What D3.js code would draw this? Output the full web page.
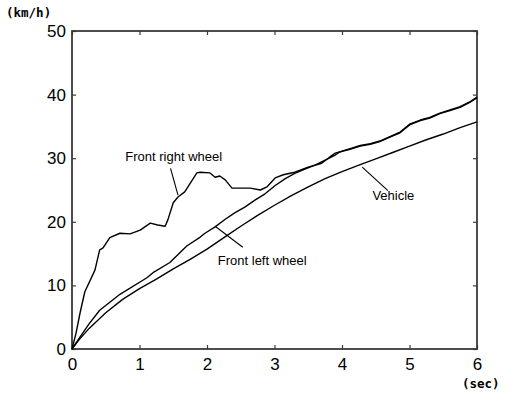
<!DOCTYPE html>
<html>
<head>
<meta charset="utf-8">
<script src="https://cdn.jsdelivr.net/npm/d3@7/dist/d3.min.js"></script>
<style>
  html, body { margin: 0; padding: 0; background: #fff; }
  svg { display: block; }
</style>
</head>
<body>
<svg id="chart" width="509" height="396"></svg>
<script>
// Wheel and vehicle speed during acceleration (km/h over seconds)
const xTicks = [0, 1, 2, 3, 4, 5, 6];
const yTicks = [0, 10, 20, 30, 40, 50];

const vehicleTime  = [0, 0.1, 0.25, 0.5, 0.75, 1.0, 1.25, 1.5, 1.75, 2.0, 2.25, 2.5, 2.75, 3.0, 3.25, 3.5, 3.75, 4.0, 4.25, 4.5, 4.75, 5.0, 5.25, 5.5, 5.75, 6.0];
const vehicleSpeed = [0, 1.4, 3.2, 5.7, 7.8, 9.5, 11.0, 12.6, 14.1, 15.7, 17.5, 19.3, 21.0, 22.6, 24.1, 25.5, 26.8, 27.9, 28.9, 29.9, 30.9, 31.9, 32.9, 33.8, 34.8, 35.7];

const leftTime  = [0, 0.1, 0.25, 0.41, 0.71, 1.11, 1.2, 1.45, 1.7, 1.9, 1.97, 2.12, 2.27, 2.41, 2.56, 2.71, 2.86, 3.01, 3.16, 3.3, 3.45, 3.6, 3.75, 3.9, 3.97, 4.12, 4.27, 4.42, 4.56, 4.71, 4.86, 5.01, 5.16, 5.3, 5.45, 5.6, 5.75, 5.9, 6.0];
const leftSpeed = [0, 1.6, 3.9, 6.1, 8.6, 11.2, 12.0, 13.6, 16.2, 17.6, 18.2, 19.2, 20.4, 21.4, 22.3, 23.4, 24.4, 25.7, 26.8, 27.6, 28.3, 28.9, 29.7, 30.5, 31.0, 31.4, 31.9, 32.2, 32.6, 33.3, 34.0, 35.3, 35.9, 36.3, 37.0, 37.5, 38.0, 38.8, 39.5];

const rightTime  = [0, 0.06, 0.12, 0.19, 0.34, 0.41, 0.46, 0.56, 0.71, 0.86, 1.01, 1.16, 1.27, 1.38, 1.42, 1.5, 1.57, 1.67, 1.85, 1.9, 2.04, 2.12, 2.19, 2.27, 2.37, 2.52, 2.64, 2.79, 2.89, 3.01, 3.13, 3.3, 3.5, 3.7, 3.82, 3.9, 4.0, 4.12, 4.27, 4.42, 4.56, 4.71, 4.86, 5.01, 5.16, 5.3, 5.45, 5.6, 5.75, 5.9, 6.0];
const rightSpeed = [0, 2.5, 5.7, 9.0, 12.4, 15.6, 15.9, 17.5, 18.2, 18.1, 18.7, 19.8, 19.5, 19.3, 20.3, 23.0, 23.9, 24.7, 27.7, 27.8, 27.7, 27.0, 27.2, 26.6, 25.3, 25.3, 25.3, 25.0, 25.5, 26.9, 27.4, 27.8, 28.6, 29.2, 30.2, 30.8, 31.1, 31.5, 32.0, 32.3, 32.7, 33.4, 34.1, 35.4, 36.0, 36.4, 37.1, 37.6, 38.1, 38.9, 39.6];

// Callout labels: text plus the short leader line pointing at its curve
const labelText = ["Front right wheel", "Front left wheel", "Vehicle"];

const svg = d3.select("#chart");
const plotLeft = 72, plotRight = 477, plotTop = 31, plotBottom = 349;

const x = d3.scaleLinear().domain([0, 6]).range([plotLeft, plotRight]);
const y = d3.scaleLinear().domain([0, 50]).range([plotBottom, plotTop]);

const frameColor = "#3a3a3a";
const tickFont = "'Liberation Sans', Arial, sans-serif";

// Bottom axis with inward ticks
const gx = svg.append("g").attr("transform", `translate(0,${plotBottom})`)
  .call(d3.axisBottom(x).tickValues(xTicks).tickFormat(d3.format("d"))
    .tickSizeInner(-4).tickSizeOuter(0).tickPadding(10));
// Left axis with inward ticks
const gy = svg.append("g").attr("transform", `translate(${plotLeft},0)`)
  .call(d3.axisLeft(y).tickValues(yTicks).tickFormat(d3.format("d"))
    .tickSizeInner(-4).tickSizeOuter(0).tickPadding(6));
// Top and right axes: ticks only
const gt = svg.append("g").attr("transform", `translate(0,${plotTop})`)
  .call(d3.axisTop(x).tickValues(xTicks).tickFormat("")
    .tickSizeInner(-4).tickSizeOuter(0));
const gr = svg.append("g").attr("transform", `translate(${plotRight},0)`)
  .call(d3.axisRight(y).tickValues(yTicks).tickFormat("")
    .tickSizeInner(-4).tickSizeOuter(0));

[gx, gy, gt, gr].forEach(g => {
  g.select(".domain").remove();
  g.selectAll(".tick line").attr("stroke", frameColor).attr("stroke-width", 1.2);
  g.selectAll(".tick text")
    .attr("font-family", tickFont)
    .attr("font-size", 17)
    .attr("fill", "#000");
});
gx.selectAll(".tick text").attr("dy", "0.62em");

// Plot frame
svg.append("rect")
  .attr("x", plotLeft).attr("y", plotTop)
  .attr("width", plotRight - plotLeft).attr("height", plotBottom - plotTop)
  .attr("fill", "none")
  .attr("stroke", frameColor)
  .attr("stroke-width", 1.8);

// Unit labels
svg.append("text")
  .attr("x", 6).attr("y", 17)
  .attr("font-family", "'DejaVu Sans Mono', monospace")
  .attr("font-weight", "bold")
  .attr("font-size", 12.5)
  .text("(km/h)");
svg.append("text")
  .attr("x", 462).attr("y", 388)
  .attr("font-family", "'DejaVu Sans Mono', monospace")
  .attr("font-weight", "bold")
  .attr("font-size", 12.5)
  .text("(sec)");

// Speed curves
const line = d3.line().x(d => x(d[0])).y(d => y(d[1]));
const series = [
  { t: vehicleTime, v: vehicleSpeed },
  { t: leftTime, v: leftSpeed },
  { t: rightTime, v: rightSpeed }
];
series.forEach(s => {
  svg.append("path")
    .datum(s.t.map((t, i) => [t, s.v[i]]))
    .attr("d", line)
    .attr("fill", "none")
    .attr("stroke", "#000")
    .attr("stroke-width", 1.4)
    .attr("stroke-linejoin", "round");
});

// Callouts placed in data space
const labelPos = [
  { tx: 0.79, ty: 29.6, a: [1.46, 28.4], b: [1.57, 24.2] },
  { tx: 2.16, ty: 13.2, a: [2.12, 19.3], b: [2.53, 16.0] },
  { tx: 4.45, ty: 23.4, a: [4.30, 28.6], b: [4.68, 24.9] }
];
labelText.forEach((txt, i) => {
  const p = labelPos[i];
  svg.append("line")
    .attr("x1", x(p.a[0])).attr("y1", y(p.a[1]))
    .attr("x2", x(p.b[0])).attr("y2", y(p.b[1]))
    .attr("stroke", "#000").attr("stroke-width", 1.1);
  svg.append("text")
    .attr("x", x(p.tx)).attr("y", y(p.ty))
    .attr("font-family", tickFont)
    .attr("font-size", 13)
    .attr("fill", "#000")
    .text(txt);
});
</script>
</body>
</html>
